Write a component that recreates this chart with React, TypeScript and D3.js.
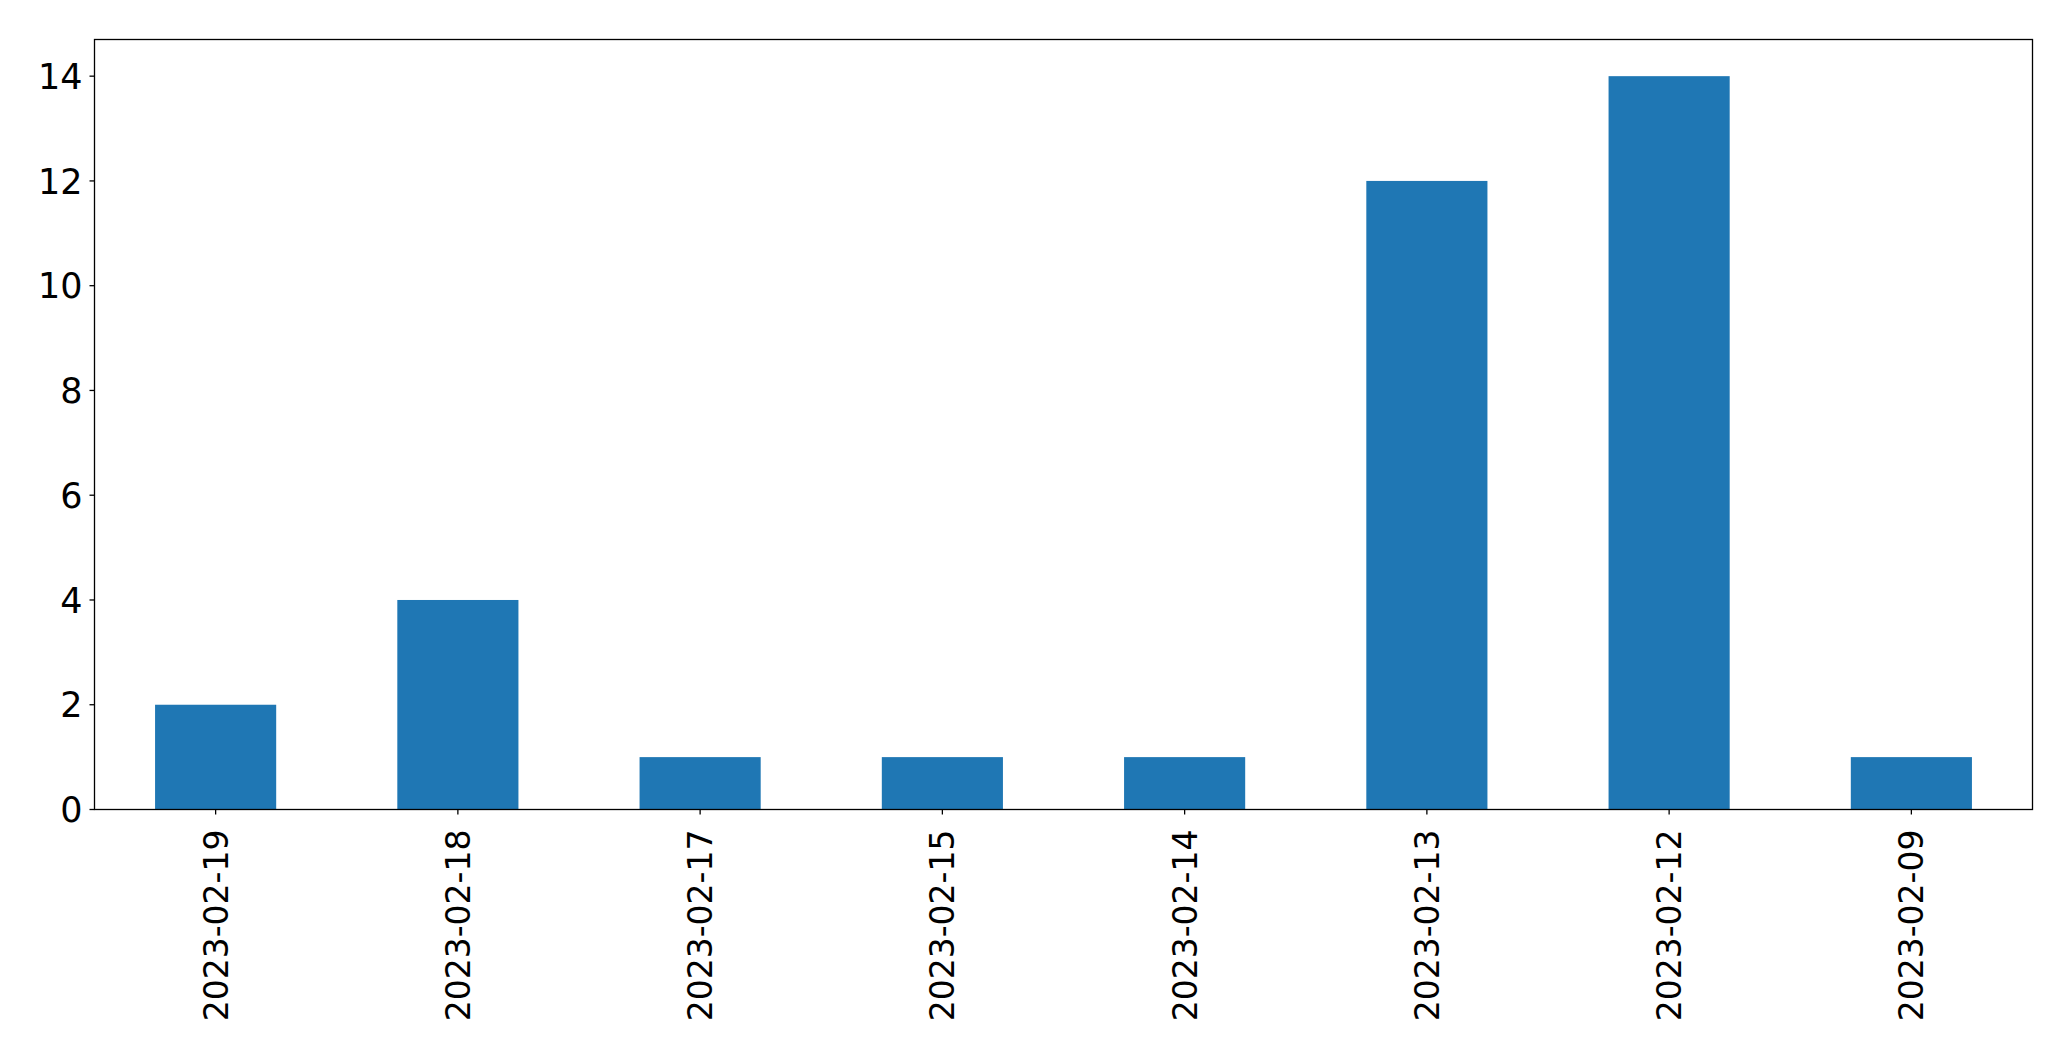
import React from "react";
import * as d3 from "d3";

const categories = ["2023-02-19", "2023-02-18", "2023-02-17", "2023-02-15", "2023-02-14", "2023-02-13", "2023-02-12", "2023-02-09"];
const values = [2, 4, 1, 1, 1, 12, 14, 1];
const yTicks = [0, 2, 4, 6, 8, 10, 12, 14];

const W = 2071;
const H = 1061;
const margin = { left: 94.5, right: W - 2032.5, top: 39.5, bottom: H - 809.5 };
const FONT = "'DejaVu Sans', sans-serif";
const FSY = 35;
const FSX = 33;

export default function App() {
  const x = d3
    .scaleBand<string>()
    .domain(categories)
    .range([margin.left, W - margin.right])
    .paddingInner(0.5)
    .paddingOuter(0.25);
  const y = d3.scaleLinear().domain([0, 14.7]).range([H - margin.bottom, margin.top]);
  const x0 = margin.left;
  const x1 = W - margin.right;
  const y0 = H - margin.bottom;
  const y1 = margin.top;

  return (
    <svg width={W} height={H} style={{ position: "absolute", left: 0, top: 0, background: "#fff" }}>
      <rect x={0} y={0} width={W} height={H} fill="#fff" />
      {categories.map((c, i) => (
        <rect key={c} x={x(c)} y={y(values[i])} width={x.bandwidth()} height={y(0) - y(values[i])} fill="#1f77b4" />
      ))}
      <rect x={x0} y={y1} width={x1 - x0} height={y0 - y1} fill="none" stroke="#000" strokeWidth={1.3} />
      {yTicks.map((t) => (
        <g key={t}>
          <line x1={x0 - 5} x2={x0} y1={y(t)} y2={y(t)} stroke="#000" strokeWidth={1.3} />
          <text x={x0 - 12} y={y(t)} dy="0.36em" textAnchor="end" fontFamily={FONT} fontSize={FSY} fill="#000">
            {t}
          </text>
        </g>
      ))}
      {categories.map((c) => {
        const cx = (x(c) as number) + x.bandwidth() / 2;
        return (
          <g key={c}>
            <line x1={cx} x2={cx} y1={y0} y2={y0 + 5} stroke="#000" strokeWidth={1.3} />
            <text
              transform={`translate(${cx},${y0 + 20}) rotate(-90)`}
              textAnchor="end"
              dy="0.36em"
              fontFamily={FONT}
              fontSize={FSX}
              fill="#000"
            >
              {c}
            </text>
          </g>
        );
      })}
    </svg>
  );
}
